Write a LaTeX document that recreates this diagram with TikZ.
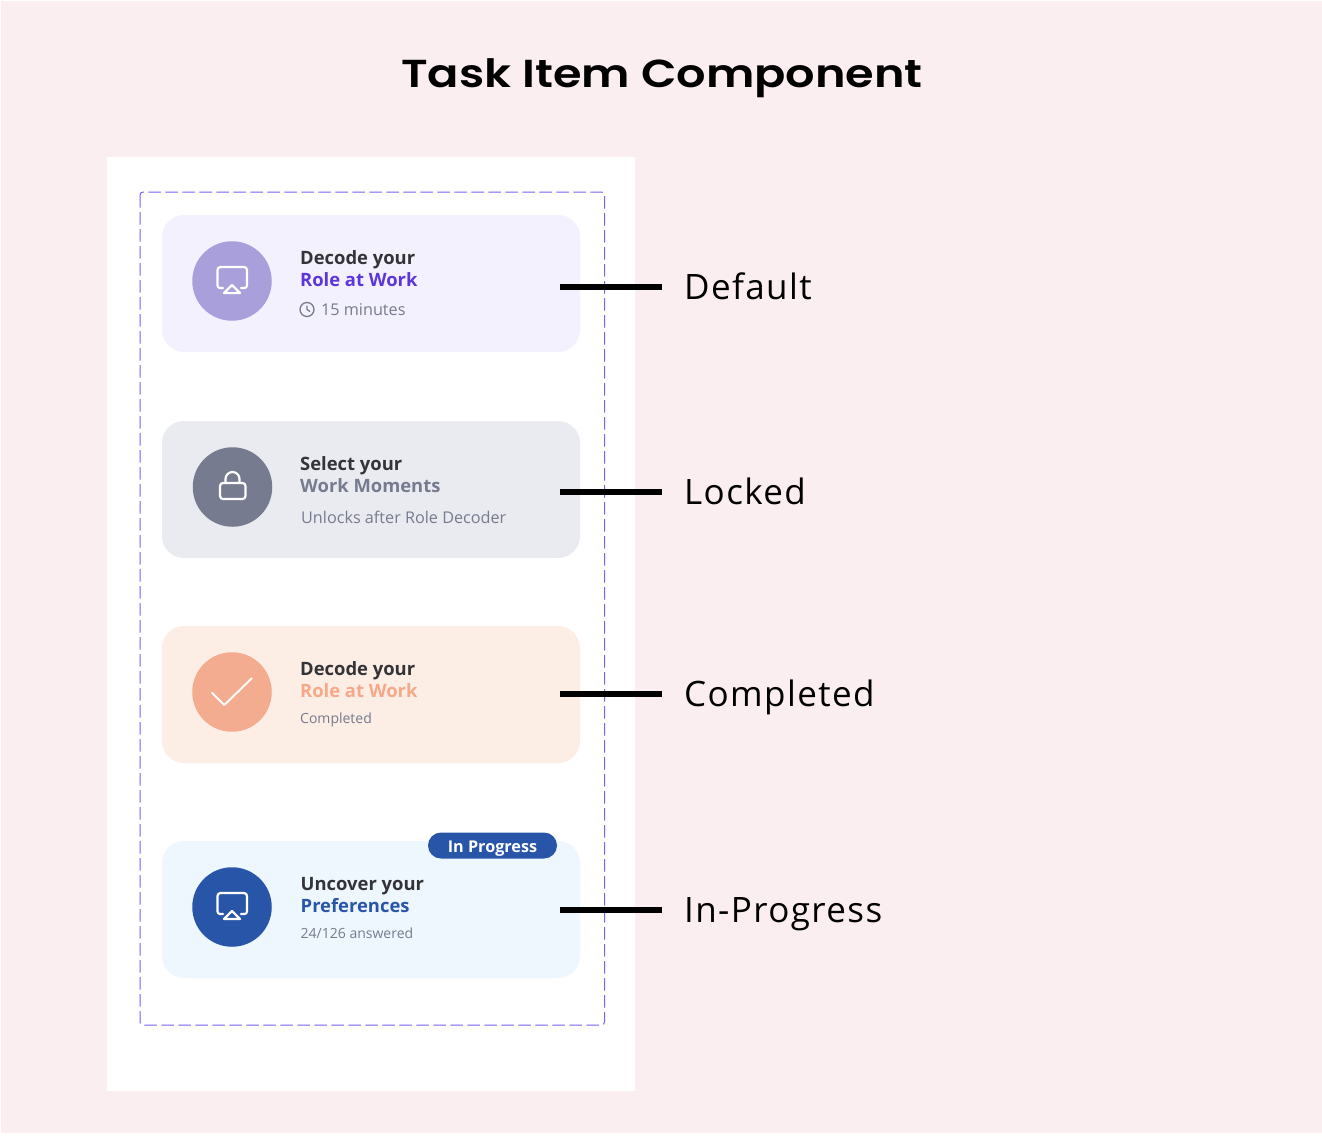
\documentclass[tikz,border=0pt]{standalone}
\usepackage{fontspec}
\usepackage{amsmath}
\setmainfont{Open Sans}
\newfontfamily\titlefont{Poppins SemiBold}
\newfontfamily\labelfont[LetterSpace=4]{Open Sans}
\usetikzlibrary{positioning}
\definecolor{pagebg}{HTML}{FBEEF0}
\definecolor{dashcol}{HTML}{7F5FF5}
\definecolor{darktext}{HTML}{333338}
\definecolor{graytext}{HTML}{767B8F}
\definecolor{purpletext}{HTML}{5B36DB}
\definecolor{peachtext}{HTML}{F6A988}
\definecolor{bluetext}{HTML}{2955A9}
\definecolor{carddefault}{HTML}{F4F1FE}
\definecolor{cardlocked}{HTML}{EAEBF0}
\definecolor{carddone}{HTML}{FCEDE5}
\definecolor{cardprogress}{HTML}{EEF6FE}
\definecolor{circdefault}{HTML}{A99FDB}
\definecolor{circlocked}{HTML}{767B8F}
\definecolor{circdone}{HTML}{F4AC90}
\tikzset{
	card/.style={rectangle,rounded corners=22pt,minimum width=418pt,minimum height=137pt,inner sep=0pt,outer sep=0pt},
	circ/.style={circle,minimum size=79.5pt,inner sep=0pt,outer sep=0pt},
	heading/.style={inner sep=0pt,font=\fontsize{18.4}{18}\selectfont\bfseries,text height=14pt,text depth=4pt},
	note/.style={inner sep=0pt,font=\fontsize{16.2}{18}\selectfont,text=graytext,text height=13pt,text depth=4pt},
	tick/.style={line width=6pt,black,shorten >=22pt},
	tag/.style={inner sep=0pt,font=\labelfont\fontsize{35}{35}\selectfont,text height=30pt,text depth=6pt},
	icon/.style={white,line width=2.2pt,line cap=round,line join=round},
	airplay/.pic={
		\draw[icon] (-9,-7) -- (-12,-7) arc (270:180:2.5) -- (-14.5,11) arc (180:90:3) -- (12,14) arc (90:0:3) -- (15,-4.5) arc (0:-90:2.5) -- (9,-7);
		\draw[icon] (0,-4) -- (-8,-12) -- (8,-12) -- cycle;
	}
}
\begin{document}
\begin{tikzpicture}[x=1pt,y=1pt]
	\useasboundingbox (0,0) rectangle (1322,-1135);
	\fill[white] (0,0) rectangle (1322,-1135);
	\fill[pagebg] (1,-1) rectangle (1322,-1133);
	\fill[white] (107,-157) rectangle (635,-1091);
	\draw[dashcol,line width=1pt,dash pattern=on 12.5pt off 4.5pt,rounded corners=3pt] (140,-192) rectangle (604.5,-1025);

	\node[inner sep=0pt,font=\titlefont\fontsize{39}{39}\selectfont,xscale=1.185,transform shape] (title) at (662,-78) {Task Item Component};

	\node[card,fill=carddefault] (card1) at (371,-283.5) {};
	\node[card,fill=cardlocked,below=69pt of card1] (card2) {};
	\node[card,fill=carddone,below=68pt of card2] (card3) {};
	\node[card,fill=cardprogress,below=78pt of card3] (card4) {};

	\node[circ,fill=circdefault] (circ1) at (232,-281) {};
	\node[circ,fill=circlocked,below=126.5pt of circ1,xshift=.5pt] (circ2) {};
	\node[circ,fill=circdone,below=125.5pt of circ2,xshift=-.5pt] (circ3) {};
	\node[circ,fill=bluetext,below=135.5pt of circ3] (circ4) {};

	\pic at (circ1) {airplay};
	\pic at (circ4) {airplay};
	\draw[icon,rounded corners=3pt] ([shift={(-12.5,4)}]circ2.center) rectangle ([shift={(13,-12)}]circ2.center);
	\draw[icon] ([shift={(-7,4)}]circ2.center) -- ([shift={(-7,8)}]circ2.center) arc (180:0:7) -- ([shift={(7,4)}]circ2.center);
	\draw[icon,line width=1.9pt] ([shift={(-20,-.7)}]circ3.center) -- ([shift={(-7.7,-13)}]circ3.center) -- ([shift={(19.7,13.7)}]circ3.center);

	% text of the cards
	\node[heading,text=darktext,anchor=north west] (head1) at (300,-250) {Decode your};
	\node[heading,text=purpletext,below=4pt of head1.south west,anchor=north west] (sub1) {Role at Work};
	\node[note,below=11pt of sub1.south west,anchor=north west,xshift=21pt] (note1) {15 minutes};
	\draw[graytext,line width=1.3pt] (note1.west) ++(-14,1) circle (7);
	\draw[graytext,line width=1.3pt] (note1.west) ++(-14,5) -- ++(0,-4) -- ++(3,-2);

	\node[heading,text=darktext,anchor=north west] (head2) at (300,-456) {Select your};
	\node[heading,text=graytext,below=4pt of head2.south west,anchor=north west] (sub2) {Work Moments};
	\node[note,below=13pt of sub2.south west,anchor=north west,xshift=1pt] (note2) {Unlocks after Role Decoder};

	\node[heading,text=darktext,anchor=north west] (head3) at (300,-661) {Decode your};
	\node[heading,text=peachtext,below=4pt of head3.south west,anchor=north west] (sub3) {Role at Work};
	\node[note,font=\fontsize{14}{16}\selectfont,below=8pt of sub3.south west,anchor=north west] (note3) {Completed};

	\node[heading,text=darktext,anchor=north west] (head4) at (300.5,-876) {Uncover your};
	\node[heading,text=bluetext,below=4pt of head4.south west,anchor=north west] (sub4) {Preferences};
	\node[note,font=\fontsize{14}{16}\selectfont,below=8pt of sub4.south west,anchor=north west] (note4) {24/126 answered};

	\node[fill=bluetext,text=white,rounded corners=13pt,minimum width=129pt,minimum height=26pt,inner sep=0pt,text height=15.5pt,text depth=2pt,font=\fontsize{16.2}{16}\selectfont\bfseries] (badge) at (492.5,-845.5) {In Progress};

	% labels on the right
	\node[tag,anchor=west] (label1) at (684,-287) {Default};
	\node[tag,anchor=west] (label2) at (684,-492) {Locked};
	\node[tag,anchor=west] (label3) at (684,-694) {Completed};
	\node[tag,anchor=west] (label4) at (684,-910) {In-Progress};

	\coordinate (start1) at (560,-287);
	\coordinate (start2) at (560,-492);
	\coordinate (start3) at (560,-694);
	\coordinate (start4) at (560,-910);
	\foreach \i in {1,2,3,4} {
		\draw[tick] (start\i) -- (label\i.west);
	}
\end{tikzpicture}
\end{document}
